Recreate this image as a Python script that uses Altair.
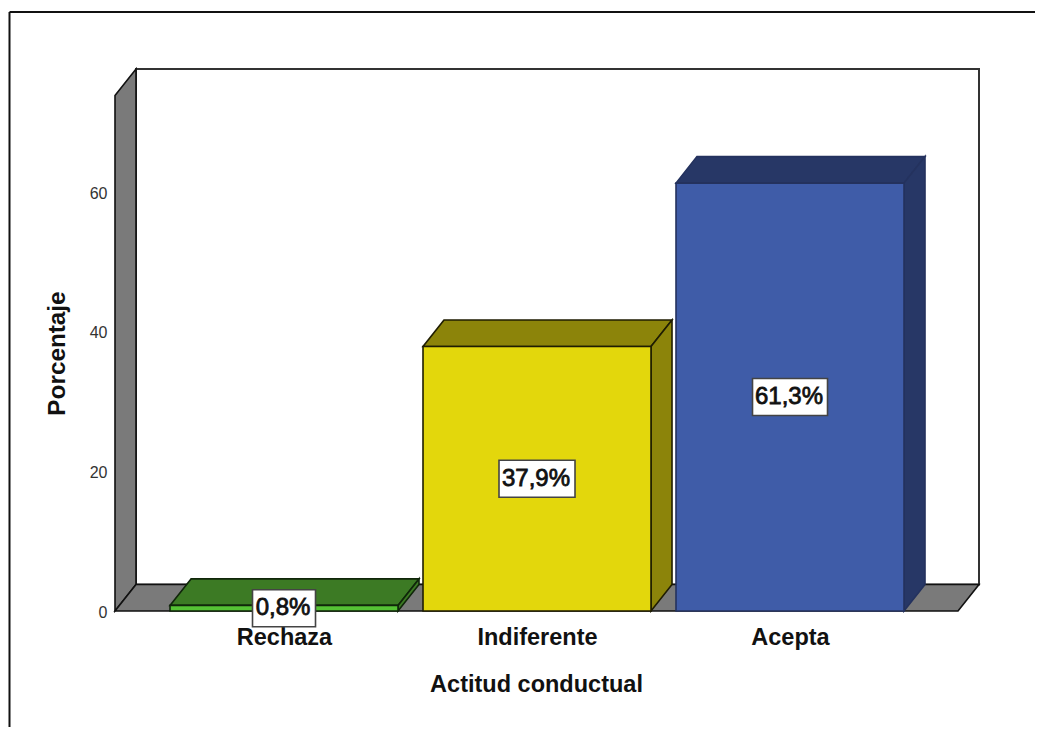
import altair as alt
import pandas as pd

categories = ["Rechaza", "Indiferente", "Acepta"]
values = [0.8, 37.9, 61.3]
labels = ["0,8%", "37,9%", "61,3%"]
y_ticks = [0, 20, 40, 60]
front_colors = ["#55C234", "#E3D70C", "#3F5CA8"]
dark_colors = ["#3C7A24", "#8C840A", "#273766"]
edge_colors = ["#10260A", "#1F1D02", "#24325E"]
box_widths = [63, 76, 75]

WALL = "#7A7A7A"
X_DOM = [-0.668, 2.747]
Y_DOM = [0, 77.65]
HALF = 0.4506
DX, DY = 0.083, 3.8
FONT = "Liberation Sans"

xs = alt.Scale(domain=X_DOM, nice=False, zero=False, padding=0)
ys = alt.Scale(domain=Y_DOM, nice=False, zero=False, padding=0)

label_expr = "datum.value==0?'%s':datum.value==1?'%s':'%s'" % tuple(categories)
x_axis = alt.Axis(values=[0, 1, 2], labelExpr=label_expr, title="Actitud conductual",
                  grid=False, domain=False, ticks=False, labelFont=FONT, labelFontSize=23.5,
                  labelFontWeight="bold", labelColor="#111", labelPadding=14,
                  titleFont=FONT, titleFontSize=23.5, titleFontWeight="bold", titleColor="#111",
                  titleX=421, titleY=73, titleBaseline="middle", labelFlush=False, labelOverlap=False)
y_axis = alt.Axis(values=y_ticks, title="Porcentaje", grid=False, domain=False, ticks=False,
                  labelFont=FONT, labelFontSize=16, labelColor="#333", labelPadding=8, labelOffset=1,
                  titleFont=FONT, titleFontSize=24.3, titleFontWeight="bold", titleColor="#111",
                  titleX=-58, titleY=284, titleBaseline="middle", titleAlign="center")

X = lambda f="x:Q": alt.X(f, scale=xs, axis=x_axis)
Y = lambda f="y:Q": alt.Y(f, scale=ys, axis=y_axis)


def v_face(x0, x1, bottom0, bottom1, top0, top1, fill, stroke, sw=1.6):
    """Parallelogram with vertical sides at x0 and x1."""
    df = pd.DataFrame({"x": [x0, x1], "y": [top0, top1], "y2": [bottom0, bottom1]})
    return alt.Chart(df).mark_area(orient="vertical", color=fill, stroke=stroke, strokeWidth=sw,
                                   opacity=1).encode(x=X(), y=Y(), y2="y2:Q")


def h_face(y0, y1, x0a, x0b, x1a, x1b, fill, stroke, sw=1.6):
    """Parallelogram with horizontal sides at y0 and y1."""
    df = pd.DataFrame({"y": [y0, y1], "x": [x0a, x1a], "x2": [x0b, x1b]})
    return alt.Chart(df).mark_area(orient="horizontal", color=fill, stroke=stroke, strokeWidth=sw,
                                   opacity=1).encode(y=Y(), x=X(), x2="x2:Q")


layers = []

# back wall
back_df = pd.DataFrame({"x": [X_DOM[0] + DX], "x2": [X_DOM[1]], "y": [DY], "y2": [Y_DOM[1]]})
layers.append(alt.Chart(back_df).mark_rect(fill="white", stroke="#333", strokeWidth=2).encode(
    x=X(), x2="x2:Q", y=Y(), y2="y2:Q"))
# left wall
layers.append(v_face(X_DOM[0], X_DOM[0] + DX, 0, DY, Y_DOM[1] - DY, Y_DOM[1], WALL, "#111"))
# floor
layers.append(h_face(0, DY, X_DOM[0], X_DOM[1] - DX, X_DOM[0] + DX, X_DOM[1], WALL, "#111"))

# bars
for i, v in enumerate(values):
    x0, x1 = i - HALF, i + HALF
    layers.append(h_face(v, v + DY, x0, x1, x0 + DX, x1 + DX, dark_colors[i], edge_colors[i]))
    layers.append(v_face(x1, x1 + DX, 0, DY, v, v + DY, dark_colors[i], edge_colors[i]))
    front = pd.DataFrame({"x": [x0], "x2": [x1], "y": [0], "y2": [v]})
    layers.append(alt.Chart(front).mark_rect(fill=front_colors[i], stroke=edge_colors[i], strokeWidth=1.6).encode(
        x=X(), x2="x2:Q", y=Y(), y2="y2:Q"))

# value labels
for i, v in enumerate(values):
    d = pd.DataFrame({"x": [i], "y": [v / 2], "t": [labels[i]]})
    layers.append(alt.Chart(d).mark_rect(width=box_widths[i], height=37, fill="white",
                                         stroke="#444", strokeWidth=1.6).encode(x=X(), y=Y()))
    layers.append(alt.Chart(d).mark_text(font=FONT, fontSize=24, fontWeight="normal", color="#111",
                                         stroke="#111", strokeWidth=0.8, dx=-1,
                                         baseline="middle", align="center").encode(x=X(), y=Y(), text="t:N"))

# page frame
PANEL_LEFT, PANEL_TOP, PANEL_RIGHT, PANEL_BOTTOM = -105.5, -57, 928, 666
layers.append(alt.Chart(pd.DataFrame({"a": [0]})).mark_rule(color="#111", strokeWidth=2).encode(
    x=alt.value(PANEL_LEFT), x2=alt.value(PANEL_RIGHT), y=alt.value(PANEL_TOP)))
layers.append(alt.Chart(pd.DataFrame({"a": [0]})).mark_rule(color="#111", strokeWidth=2).encode(
    x=alt.value(PANEL_LEFT), y=alt.value(PANEL_TOP), y2=alt.value(PANEL_BOTTOM)))

chart = alt.layer(*layers).properties(
    width=864, height=542,
    autosize=alt.AutoSizeParams(type="none"),
    padding={"left": 107, "top": 61, "right": 56, "bottom": 116},
    background="white",
).configure_view(stroke=None)

chart.save("out.html", embed_options={"renderer": "svg", "actions": False})
